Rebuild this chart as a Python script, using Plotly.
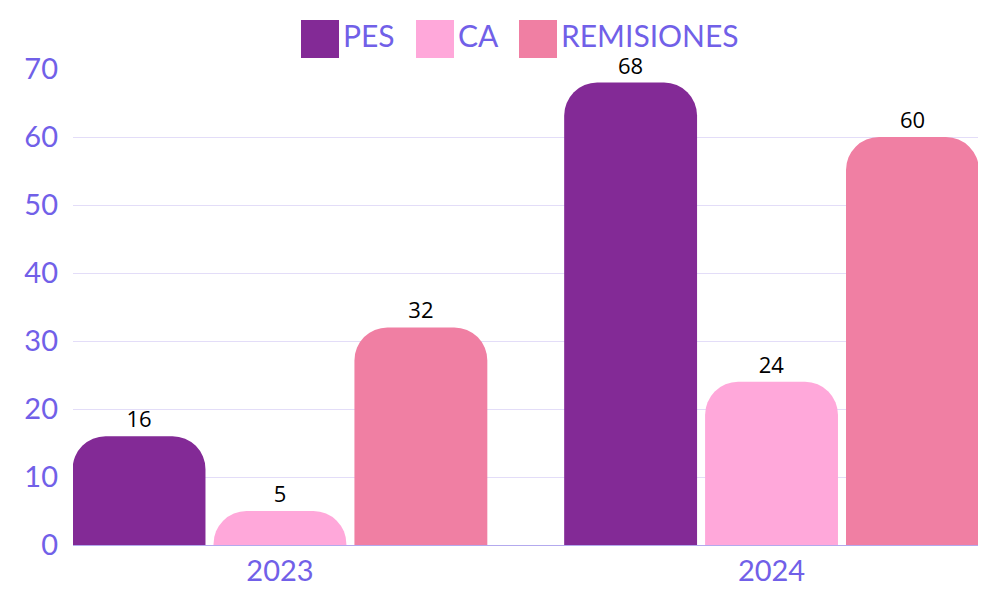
import plotly.graph_objects as go

years = ["2023", "2024"]
series_names = ["PES", "CA", "REMISIONES"]
series_colors = ["#832a96", "#ffa8da", "#f07fa3"]
pes = [16, 68]
ca = [5, 24]
remisiones = [32, 60]

values = [pes, ca, remisiones]
tick_vals = [0, 10, 20, 30, 40, 50, 60, 70]

label_color = "#7160e8"

# the page body adds 8px on the top and left, so the figure is sized to fit the rest
off = 8
fig_w, fig_h = 988 - off, 593 - off
left, top, right, bottom = 73 - off, 69 - off, 10, 48
plot_w = fig_w - left - right
plot_h = fig_h - top - bottom

fig = go.Figure()
for name, color, vals in zip(series_names, series_colors, values):
    fig.add_trace(
        go.Bar(
            x=years,
            y=vals,
            name=name,
            marker=dict(color=color, line=dict(width=0)),
            text=vals,
            textposition="outside",
            textfont=dict(family="Open Sans", size=22, color="black"),
            cliponaxis=False,
            showlegend=False,
        )
    )

# legend drawn by hand so the swatches can be large
legend_x = [301, 416, 519]
for name, color, lx in zip(series_names, series_colors, legend_x):
    fig.add_shape(
        type="rect",
        xref="paper", yref="paper",
        x0=(lx - 73) / plot_w, x1=(lx + 38 - 73) / plot_w,
        y0=(545 - 58) / plot_h, y1=(545 - 20) / plot_h,
        fillcolor=color, line=dict(width=0),
    )
    fig.add_annotation(
        text=name,
        xref="paper", yref="paper",
        x=(lx + 40 - 73) / plot_w, y=(545 - 35) / plot_h,
        xanchor="left", yanchor="middle",
        showarrow=False,
        font=dict(family="Lato", size=30, color=label_color),
    )

fig.update_layout(
    barmode="group",
    bargap=0.14,
    bargroupgap=0.057,
    barcornerradius=33,
    width=fig_w,
    height=fig_h,
    margin=dict(l=left, r=right, t=top, b=bottom),
    plot_bgcolor="white",
    paper_bgcolor="white",
    font=dict(family="Lato", color=label_color),
    xaxis=dict(
        range=[-0.421, 1.42],
        showgrid=False,
        showline=True,
        linecolor="#b3a9ee",
        linewidth=1,
        tickfont=dict(size=29, color=label_color),
        ticks="",
        automargin=False,
    ),
    yaxis=dict(
        range=[0, 70],
        tickvals=tick_vals,
        gridcolor="#e3ddf8",
        gridwidth=1,
        zeroline=False,
        tickfont=dict(size=29, color=label_color),
        ticklabelstandoff=14,
        automargin=False,
    ),
)

fig.write_html("out.html")
